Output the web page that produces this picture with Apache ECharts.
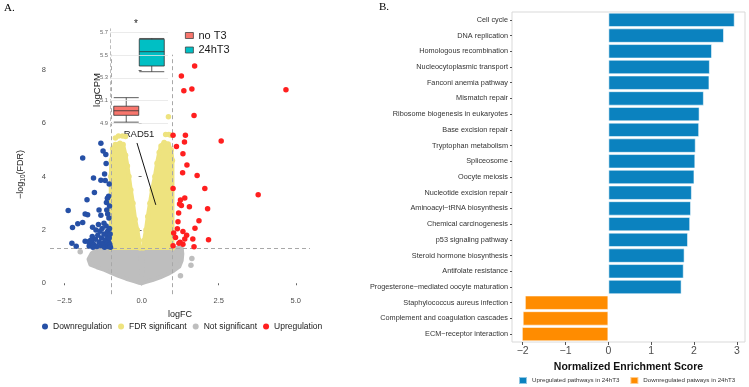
<!DOCTYPE html>
<html>
<head>
<meta charset="utf-8">
<script src="https://cdn.jsdelivr.net/npm/echarts@6/dist/echarts.min.js"></script>
<style>
html, body { margin: 0; padding: 0; background: #fff; }
#chart { width: 749px; height: 387px; }
</style>
</head>
<body>
<div id="chart"></div>
<script>
// ---- panel A: volcano (logFC, -log10 FDR) ----
const upGenes = [[1.72,8.15],[1.29,7.77],[1.37,7.22],[1.63,7.28],[1.70,6.29],[1.02,5.55],[1.42,5.55],[1.39,5.30],
    [1.13,5.13],[2.58,5.33],[4.68,7.26],[1.34,4.86],[1.47,4.43],[1.33,4.14],[1.80,4.04],[1.02,3.55],[2.05,3.55],
    [3.78,3.32],[1.40,3.20],[1.26,3.12],[1.23,2.97],[1.29,2.92],[1.55,2.87],[2.14,2.79],[1.20,2.63],[1.86,2.34],
    [1.18,2.31],[1.73,2.06],[1.16,2.04],[1.34,1.94],[1.04,1.88],[1.46,1.80],[1.10,1.72],[1.40,1.66],[1.66,1.66],
    [2.17,1.63],[1.25,1.54],[1.34,1.46],[1.70,1.37],[1.02,1.41],[1.21,1.50]];
const downGenes = [[-1.32,5.25],[-1.91,4.70],[-1.25,4.96],[-1.16,4.83],[-1.15,4.49],[-1.20,4.10],[-1.32,3.86],
    [-1.18,3.85],[-1.05,3.72],[-1.56,3.95],[-1.53,3.40],[-1.77,3.13],[-1.07,3.26],[-1.14,3.03],[-1.11,3.19],
    [-2.38,2.73],[-1.38,2.75],[-1.13,2.75],[-1.83,2.60],[-1.75,2.57],[-1.32,2.55],[-1.91,2.28],[-2.07,2.23],
    [-2.24,2.09],[-1.59,2.10],[-1.22,2.25],[-2.26,1.50],[-2.12,1.39],[-1.83,1.58],[-1.72,1.56],
    [-1.70,1.40],[-1.62,1.55],[-1.55,1.45],[-1.50,1.65],[-1.45,1.38],[-1.42,1.80],[-1.38,1.55],[-1.35,1.95],
    [-1.32,1.42],[-1.30,1.70],[-1.28,2.05],[-1.25,1.50],[-1.22,1.85],[-1.20,1.35],[-1.18,1.62],[-1.15,2.15],
    [-1.13,1.45],[-1.12,1.78],[-1.10,1.95],[-1.08,1.38],[-1.07,1.55],[-1.05,1.70],[-1.04,2.05],[-1.03,1.45],
    [-1.02,1.85],[-1.01,1.35],[-1.60,1.75],[-1.48,2.00],[-1.40,2.20],[-1.58,1.35],[-1.66,1.60],[-1.06,2.45],
    [-1.10,2.60],[-1.04,2.90]];
// dense FDR-significant clouds (outline of the packed points) and stray points
const fdrLeftCloud = [[-1.0,1.32],[-1.0,4.0],[-0.98,4.6],[-0.94,5.05],[-0.85,5.2],[-0.7,5.25],[-0.6,5.2],
    [-0.52,4.8],[-0.46,4.4],[-0.41,4.0],[-0.35,3.5],[-0.28,3.0],[-0.21,2.4],[-0.14,2.0],[-0.08,1.6],[-0.05,1.32]];
const fdrRightCloud = [[0.05,1.32],[0.08,1.6],[0.14,2.0],[0.2,2.5],[0.27,3.0],[0.34,3.5],[0.43,4.0],[0.5,4.5],
    [0.57,4.9],[0.63,5.15],[0.73,5.28],[0.86,5.22],[0.96,5.0],[1.0,4.6],[1.0,1.32]];
const fdrPoints = [[-0.75,5.52],[-0.62,5.52],[-0.52,5.5],[-0.85,5.45],[0.78,5.58],[0.88,5.58],[0.95,5.55],
    [0.87,6.24],[0.46,2.94]];
const nsCloud = [[-0.06,1.32],[-1.25,1.32],[-1.45,1.26],[-1.62,1.12],[-1.72,0.9],[-1.66,0.7],[-1.45,0.6],
    [-1.2,0.5],[-1.0,0.4],[-0.75,0.28],[-0.5,0.17],[-0.25,0.08],[-0.08,0.02],[0.0,0.0],[0.12,0.04],[0.35,0.12],
    [0.6,0.22],[0.85,0.35],[1.05,0.48],[1.22,0.62],[1.3,0.85],[1.32,1.1],[1.3,1.32],[0.06,1.32],[0.01,0.3]];
const nsPoints = [[-1.99,1.18],[1.63,0.93],[1.60,0.68],[1.26,0.28]];
const rad51Point = [0.46, 2.94];
const rad51LabelEnd = [-0.15, 5.26];
const volcanoXTicks = [-2.5, 0, 2.5, 5];
const volcanoYTicks = [0, 2, 4, 6, 8];
const fdrCut = 1.3;
const fcCut = [-1, 1];

// ---- inset: RAD51 logCPM boxplot [min, Q1, median, Q3, max] ----
const groups = ['no T3', '24hT3'];
const noT3Box = [4.91, 4.97, 5.01, 5.05, 5.125];
const t3Box = [5.353, 5.403, 5.529, 5.638, 5.645];
const boxTicks = [4.9, 5.1, 5.3, 5.5, 5.7];

// ---- panel B: GSEA NES ----
const pathways = ['Cell cycle', 'DNA replication', 'Homologous recombination', 'Nucleocytoplasmic transport',
    'Fanconi anemia pathway', 'Mismatch repair', 'Ribosome biogenesis in eukaryotes', 'Base excision repair',
    'Tryptophan metabolism', 'Spliceosome', 'Oocyte meiosis', 'Nucleotide excision repair',
    'Aminoacyl\u2212tRNA biosynthesis', 'Chemical carcinogenesis', 'p53 signaling pathway',
    'Steroid hormone biosynthesis', 'Antifolate resistance', 'Progesterone\u2212mediated oocyte maturation',
    'Staphylococcus aureus infection', 'Complement and coagulation cascades', 'ECM\u2212receptor interaction'];
const nes = [2.95, 2.70, 2.42, 2.37, 2.36, 2.23, 2.13, 2.12, 2.04, 2.03, 2.01, 1.95, 1.93, 1.91, 1.86,
    1.78, 1.76, 1.71, -1.95, -2.00, -2.02];
const nesTicks = [-2, -1, 0, 1, 2, 3];

const FONT = 'Liberation Sans, Arial, sans-serif';
const COL = { down: '#2650A6', fdr: '#EEE37F', ns: '#BEBEBE', up: '#FF1F1F',
    noT3: '#F8766D', t3: '#00BFC4', upPath: '#0B82BF', downPath: '#FF8C00' };

const minus = v => (v < 0 ? '\u2212' : '') + Math.abs(v);

function cloud(name, color, outline, z) {
    return {
        type: 'custom', name: name, xAxisIndex: 0, yAxisIndex: 0, z: z, silent: true,
        itemStyle: { color: color },
        data: [0],
        renderItem: function (params, api) {
            return {
                type: 'polygon',
                shape: { points: outline.map(p => api.coord(p)) },
                style: { fill: color, stroke: color, lineWidth: 4, lineJoin: 'round' }
            };
        }
    };
}

function dots(name, color, data, z) {
    return {
        type: 'scatter', name: name, xAxisIndex: 0, yAxisIndex: 0, z: z,
        symbolSize: 5.5, itemStyle: { color: color, opacity: 1 }, data: data
    };
}

const chart = echarts.init(document.getElementById('chart'));

const option = {
    animation: false,
    textStyle: { fontFamily: FONT },
    title: [
        { text: 'A.', left: 4, top: 3, padding: 0,
          textStyle: { fontFamily: 'Liberation Serif, serif', fontSize: 11, fontWeight: 'normal', color: '#000' } },
        { text: 'B.', left: 379, top: 2, padding: 0,
          textStyle: { fontFamily: 'Liberation Serif, serif', fontSize: 11, fontWeight: 'normal', color: '#000' } }
    ],
    graphic: [
        { type: 'text', left: 134, top: 19, style: { text: '*', fontSize: 10, fill: '#222', fontFamily: FONT } },
        { type: 'text', x: 97, y: 90, rotation: Math.PI / 2,
          style: { text: 'logCPM', fontSize: 9.5, fill: '#1a1a1a', fontFamily: FONT, align: 'center', verticalAlign: 'middle' } }
    ],
    legend: [
        { data: ['Downregulation', 'FDR significant', 'Not significant', 'Upregulation'],
          left: 42, top: 322, icon: 'circle', itemWidth: 6, itemHeight: 6, itemGap: 6, padding: 0,
          textStyle: { fontSize: 8.5, color: '#1a1a1a', fontFamily: FONT } },
        { data: [
              { name: groups[0], itemStyle: { color: COL.noT3, borderColor: '#444', borderWidth: 0.8 } },
              { name: groups[1], itemStyle: { color: COL.t3, borderColor: '#444', borderWidth: 0.8 } }
          ],
          orient: 'vertical', left: 185, top: 29, itemWidth: 8, itemHeight: 6, itemGap: 1.5,
          padding: 0, icon: 'rect',
          textStyle: { fontSize: 11, lineHeight: 13, color: '#1a1a1a', fontFamily: FONT } },
        { data: ['Upregulated pathways in 24hT3', 'Downregulated patways in 24hT3'],
          left: 518, top: 376, itemWidth: 8, itemHeight: 7, itemGap: 10, padding: 0, icon: 'rect',
          textStyle: { fontSize: 6.2, color: '#333', fontFamily: FONT } }
    ],
    grid: [
        { left: 50, top: 54.7, width: 260, height: 239.5 },
        { left: 110, top: 28.8, width: 58, height: 97.9 },
        { left: 512, top: 12, width: 233, height: 330, show: true, borderColor: '#d9d9d9', borderWidth: 1 }
    ],
    xAxis: [
        { type: 'value', gridIndex: 0, min: -2.97, max: 5.46,
          name: 'logFC', nameLocation: 'middle', nameGap: 11,
          nameTextStyle: { fontSize: 9, color: '#1a1a1a' },
          axisLine: { show: false }, splitLine: { show: false },
          axisTick: { show: true, length: 2, customValues: volcanoXTicks, lineStyle: { color: '#666' } },
          axisLabel: { customValues: volcanoXTicks, fontSize: 7.5, color: '#4d4d4d', margin: 3,
                       formatter: v => (v < 0 ? '\u2212' : '') + Math.abs(v).toFixed(1) } },
        { type: 'category', gridIndex: 1, data: ['RAD51'],
          axisLine: { show: false }, axisTick: { show: false },
          axisLabel: { fontSize: 9.5, color: '#1a1a1a', margin: 3 } },
        { type: 'value', gridIndex: 2, min: -2.25, max: 3.19,
          name: 'Normalized Enrichment Score', nameLocation: 'middle', nameGap: 15,
          nameTextStyle: { fontSize: 10.5, fontWeight: 'bold', color: '#111' },
          axisLine: { show: false }, splitLine: { show: false },
          axisTick: { show: true, length: 3, customValues: nesTicks, lineStyle: { color: '#555' } },
          axisLabel: { customValues: nesTicks, fontSize: 10.5, color: '#4d4d4d', margin: 4, formatter: minus } }
    ],
    yAxis: [
        { type: 'value', gridIndex: 0, min: -0.41, max: 8.57,
          name: '{t|\u2212log}{s|10}{t|(FDR)}', nameLocation: 'middle', nameGap: 23, nameRotate: 90,
          nameTextStyle: { rich: { t: { fontSize: 9, color: '#1a1a1a' }, s: { fontSize: 6.5, color: '#1a1a1a', padding: [5, 0, 0, 0] } } },
          axisLine: { show: false }, splitLine: { show: false },
          axisTick: { show: true, length: 3, customValues: volcanoYTicks, lineStyle: { color: '#666' } },
          axisLabel: { customValues: volcanoYTicks, fontSize: 7.5, color: '#4d4d4d', margin: 4 } },
        { type: 'value', gridIndex: 1, min: 4.87, max: 5.73,
          axisLine: { show: true, lineStyle: { color: '#bdbdbd', type: [3, 3], width: 1 } },
          axisTick: { show: false }, splitLine: { show: false },
          axisLabel: { customValues: boxTicks, fontSize: 5.8, color: '#6a6a6a', margin: 2 } },
        { type: 'category', gridIndex: 2, data: pathways, inverse: true,
          axisLine: { show: false, onZero: false },
          axisTick: { show: true, length: 2, alignWithLabel: true, lineStyle: { color: '#555' } },
          axisLabel: { fontSize: 7.3, color: '#333', margin: 4 } }
    ],
    series: [
        cloud('Not significant', COL.ns, nsCloud, 1),
        dots('Not significant', COL.ns, nsPoints, 2),
        cloud('FDR significant', COL.fdr, fdrLeftCloud, 3),
        cloud('FDR significant', COL.fdr, fdrRightCloud, 3),
        dots('FDR significant', COL.fdr, fdrLeftCloud.concat(fdrRightCloud, fdrPoints), 4),
        dots('Downregulation', COL.down, downGenes, 5),
        dots('Upregulation', COL.up, upGenes, 5),
        { type: 'scatter', xAxisIndex: 0, yAxisIndex: 0, data: [], z: 6, silent: true,
          markLine: { silent: true, symbol: ['none', 'none'], label: { show: false },
                      lineStyle: { color: '#a8a8a8', type: [4, 3], width: 1 },
                      data: [{ xAxis: fcCut[0] }, { xAxis: fcCut[1] }, { yAxis: fdrCut }] } },
        { type: 'line', xAxisIndex: 0, yAxisIndex: 0, z: 7, silent: true, symbol: 'none',
          lineStyle: { color: '#111', width: 1 }, data: [rad51LabelEnd, rad51Point] },
        // inset gridlines
        { type: 'scatter', xAxisIndex: 1, yAxisIndex: 1, data: [], z: 1, silent: true,
          markLine: { silent: true, symbol: ['none', 'none'], label: { show: false },
                      lineStyle: { color: '#e6e6e6', type: 'solid', width: 0.8 },
                      data: boxTicks.map(v => ({ yAxis: v })) } },
        { type: 'boxplot', name: groups[0], xAxisIndex: 1, yAxisIndex: 1, z: 3, boxWidth: [25, 25],
          itemStyle: { color: COL.noT3, borderColor: '#333', borderWidth: 0.8 }, data: [noT3Box] },
        { type: 'boxplot', name: groups[1], xAxisIndex: 1, yAxisIndex: 1, z: 3, boxWidth: [25, 25],
          itemStyle: { color: COL.t3, borderColor: '#333', borderWidth: 0.8 }, data: [t3Box] },
        // panel B
        { type: 'bar', name: 'Upregulated pathways in 24hT3', xAxisIndex: 2, yAxisIndex: 2, stack: 'nes',
          barCategoryGap: '8%',
          itemStyle: { color: COL.upPath, borderColor: 'rgba(255,255,255,0.55)', borderWidth: 1 },
          data: nes.map(v => (v > 0 ? v : null)) },
        { type: 'bar', name: 'Downregulated patways in 24hT3', xAxisIndex: 2, yAxisIndex: 2, stack: 'nes',
          barCategoryGap: '8%',
          itemStyle: { color: COL.downPath, borderColor: 'rgba(255,255,255,0.55)', borderWidth: 1 },
          data: nes.map(v => (v < 0 ? v : null)) }
    ]
};

chart.setOption(option);
</script>
</body>
</html>
